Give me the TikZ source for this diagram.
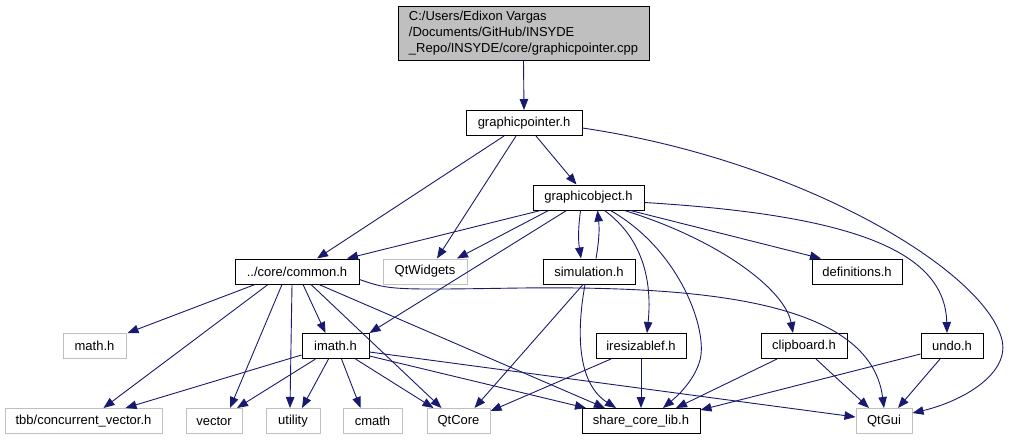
\documentclass[tikz,border=0pt]{standalone}
\usepackage{fontspec}
\setmainfont{Liberation Sans}
\usetikzlibrary{arrows.meta}
\definecolor{edgeblue}{RGB}{25,25,112}
\definecolor{rootgray}{RGB}{191,191,191}
\definecolor{extgray}{RGB}{191,191,191}
\tikzset{
  box/.style={draw=black, line width=1pt, minimum height=25pt, inner sep=0pt, fill=white,
    font=\fontsize{13}{16}\selectfont},
  ext/.style={box, draw=extgray},
  rootbox/.style={box, fill=rootgray, minimum height=54pt, align=left},
  e/.style={draw=edgeblue, line width=0.9pt, -{Triangle[length=11pt,width=8.5pt]}},
}
\begin{document}
\begin{tikzpicture}[x=1pt,y=-1pt]
\useasboundingbox (0,0) rectangle (1009,440);
% nodes
\node[rootbox, minimum width=251pt] (root) at (523.5,33) {C:/Users/Edixon Vargas\\/Documents/GitHub/INSYDE\\\_Repo/INSYDE/core/graphicpointer.cpp};
\node[box, minimum width=116pt] (gp) at (524,123) {graphicpointer.h};
\node[box, minimum width=111pt] (gobj) at (588.5,197.5) {graphicobject.h};
\node[box, minimum width=90pt] (defs) at (857,271.5) {definitions.h};
\node[box, minimum width=92pt] (sim) at (589,271.5) {simulation.h};
\node[box, minimum width=124pt] (common) at (297,271.5) {../core/common.h};
\node[ext, minimum width=84pt] (qtw) at (425,271.5) {QtWidgets};
\node[ext, minimum width=63pt] (math) at (94.5,346) {math.h};
\node[box, minimum width=67pt] (imath) at (335.5,346) {imath.h};
\node[box, minimum width=90pt] (ires) at (641,346) {iresizablef.h};
\node[box, minimum width=86pt] (clip) at (804,346) {clipboard.h};
\node[box, minimum width=62pt] (undo) at (952,346) {undo.h};
\node[ext, minimum width=157pt] (tbb) at (83.5,421) {tbb/concurrent\_vector.h};
\node[ext, minimum width=56pt] (vector) at (214,421) {vector};
\node[ext, minimum width=54pt] (utility) at (293,421) {utility};
\node[ext, minimum width=59pt] (cmath) at (372.5,421) {cmath};
\node[ext, minimum width=63pt] (qtcore) at (458.5,421) {QtCore};
\node[box, minimum width=118pt] (share) at (641,421) {share\_core\_lib.h};
\node[ext, minimum width=56pt] (qtgui) at (884,421) {QtGui};
% edges
\draw[e] (root.south) -- (gp.north);
\draw[e] ([xshift=12pt]gp.south) -- ([xshift=-12pt]gobj.north);
\draw[e] ([xshift=-20pt]gp.south) -- ([xshift=20pt]common.north);
\draw[e] ([xshift=-8pt]gp.south) -- ([xshift=12pt]qtw.north);
\draw[e] ([yshift=-5pt]gp.east) .. controls (800,160) and (985,270) .. (1002,340) .. controls (1010,375) and (960,402) .. ([yshift=8pt]qtgui.east);
\draw[e] ([xshift=-48pt]gobj.south) -- ([xshift=50pt]common.north);
\draw[e] ([xshift=-40pt]gobj.south) -- ([xshift=32pt]qtw.north);
\draw[e] ([xshift=-8pt]gobj.south) to[bend right=8] ([xshift=-8pt]sim.north);
\draw[e] ([xshift=7pt]sim.north) to[bend right=8] ([xshift=9pt]gobj.south);
\draw[e] ([xshift=-22pt]gobj.south) -- ([xshift=34pt]imath.north);
\draw[e] ([xshift=16pt]gobj.south) .. controls (645,240) and (652,285) .. ([xshift=6pt]ires.north);
\draw[e] ([xshift=22pt]gobj.south) .. controls (680,250) and (708,330) .. (700,360) .. controls (694,382) and (675,398) .. ([xshift=22pt]share.north);
\draw[e] ([xshift=36pt]gobj.south) .. controls (720,240) and (785,290) .. ([xshift=-11pt]clip.north);
\draw[e] ([xshift=42pt]gobj.south) -- ([xshift=-36pt]defs.north);
\draw[e] ([yshift=-5pt]gobj.east) .. controls (850,215) and (945,250) .. ([xshift=-5pt]undo.north);
\draw[e] ([xshift=-6pt]sim.south) -- ([xshift=16pt]qtcore.north);
\draw[e] ([xshift=-4pt]sim.south) .. controls (575,340) and (580,385) .. ([xshift=-25pt]share.north);
\draw[e] ([xshift=-42pt]common.south) -- ([xshift=33pt]math.north);
\draw[e] ([xshift=-29pt]common.south) -- ([xshift=20pt]tbb.north);
\draw[e] ([xshift=-15pt]common.south) -- ([xshift=16pt]vector.north);
\draw[e] ([xshift=-5pt]common.south) -- ([xshift=-3pt]utility.north);
\draw[e] ([xshift=6pt]common.south) -- ([xshift=-10pt]imath.north);
\draw[e] ([xshift=14pt]common.south) -- ([xshift=-17pt]qtcore.north);
\draw[e] ([xshift=22pt]common.south) -- ([xshift=-36pt]share.north);
\draw[e] ([yshift=-8pt]common.east) .. controls (390,290) .. (520,288) .. controls (700,286) and (870,300) .. (qtgui.north);
\draw[e] ([yshift=-9pt]imath.west) -- ([xshift=42pt]tbb.north);
\draw[e] ([xshift=-20pt]imath.south) -- ([xshift=23pt]vector.north);
\draw[e] ([xshift=-7pt]imath.south) -- ([xshift=9pt]utility.north);
\draw[e] ([xshift=6pt]imath.south) -- ([xshift=-12pt]cmath.north);
\draw[e] ([xshift=20pt]imath.south) -- ([xshift=-25pt]qtcore.north);
\draw[e] ([yshift=-10pt]imath.east) -- ([xshift=-55pt]share.north);
\draw[e] ([yshift=-6pt]imath.east) -- ([yshift=4pt]qtgui.west);
\draw[e] ([xshift=-30pt]ires.south) -- ([yshift=10pt]qtcore.east);
\draw[e] (ires.south) -- (share.north);
\draw[e] ([xshift=-27pt]clip.south) -- ([xshift=35pt]share.north);
\draw[e] ([xshift=12pt]clip.south) -- ([xshift=-15pt]qtgui.north);
\draw[e] ([yshift=-8pt]undo.west) -- ([yshift=-2pt]share.north east);
\draw[e] ([xshift=-12pt]undo.south) -- ([xshift=14pt]qtgui.north);
\end{tikzpicture}
\end{document}
